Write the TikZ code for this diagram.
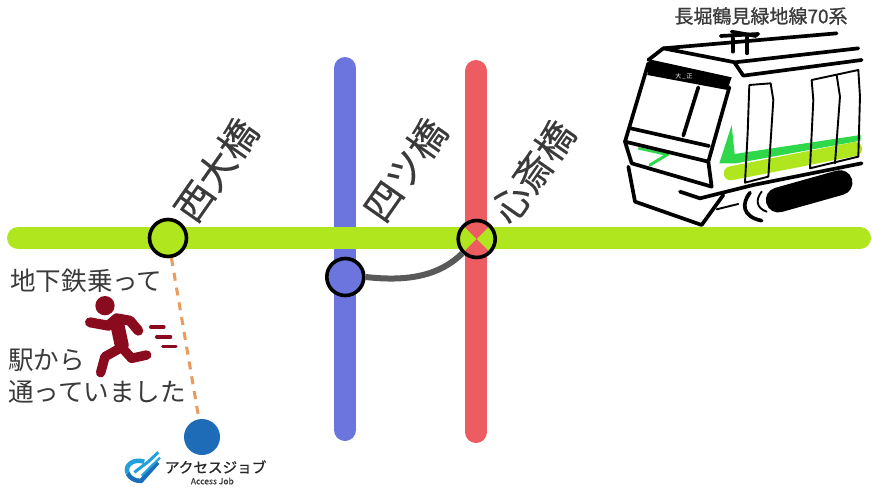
\documentclass[tikz,border=0pt]{standalone}
\usepackage{fontspec}
\setmainfont{Noto Sans CJK JP}
\newfontfamily\fbb[FakeBold=0.9]{Noto Sans CJK JP}
\newfontfamily\fbs[FakeBold=0.3]{Noto Sans CJK JP}
\definecolor{linelime}{HTML}{B0E61E}
\definecolor{lineblue}{HTML}{6C74DE}
\definecolor{linered}{HTML}{EC5C60}
\definecolor{txt}{HTML}{3A3A3A}
\definecolor{runner}{HTML}{8A0A1E}
\definecolor{traingreen}{HTML}{2FD84A}
\definecolor{dotblue}{HTML}{1E6BB8}
\definecolor{logoa}{HTML}{22A0DC}
\definecolor{logob}{HTML}{1A70B8}
\definecolor{dashor}{HTML}{EA9A5C}
\tikzset{
 metro/.style={line width=22pt,line cap=round},
 station/.style={circle,draw=black,line width=3.6pt,minimum size=37pt,inner sep=0pt},
 stname/.style={rotate=55,text=txt,inner sep=0pt,font=\fontsize{38}{38}\fbs},
 lefttext/.style={anchor=west,text=txt,inner sep=0pt,font=\fontsize{25.6}{26}\selectfont},
 tr/.style={line width=3.7pt,line join=round,line cap=round},
 trthin/.style={line width=1.9pt,line join=round,line cap=round},
 limb/.style={draw=runner,line width=10pt,line cap=round,line join=round},
 speed/.style={draw=runner,line width=3.2pt,line cap=round},
}
\begin{document}
\begin{tikzpicture}[x=1pt,y=-1pt]
\useasboundingbox (0,0) rectangle (872,487);
\fill[white] (0,0) rectangle (872,487);
% ---- line ends
\coordinate (gw) at (18,238); \coordinate (ge) at (860,238);
\coordinate (bn) at (345,68); \coordinate (bs) at (345,430);
\coordinate (rn) at (476,71); \coordinate (rs) at (476,432);
\draw[metro,lineblue] (bn) -- (bs);
\draw[metro,linered] (rn) -- (rs);
\draw[metro,linelime] (gw) -- (ge);
% ---- train (reference zoom units)
\begin{scope}[shift={(610,0)},x=0.3333pt,y=-0.3333pt]
 \draw[line width=14pt,line cap=round,linelime] (362,520) -- (735,447);
 \fill[traingreen] (365,375) -- (374,462) -- (752,405) -- (752,422) -- (378,490) -- (328,490) -- cycle;
 \draw[line width=25pt,line cap=round,black] (505,600) -- (690,548);
 \draw[line width=3pt,traingreen,line cap=round] (120,495) -- (175,462);
 \draw[line width=2.5pt,traingreen] (85,445) -- (175,465);
 % roof
 \draw[tr] (115,180) -- (160,145) -- (680,100);
 \draw[tr] (160,145) -- (375,187) -- (745,145);
 \draw[tr] (375,190) -- (400,227) -- (755,180);
 % pantograph
 \draw[tr] (365,95) -- (438,108);
 \draw[tr] (332,108) -- (445,102);
 \draw[tr] (368,115) -- (368,155);
 \draw[tr] (411,112) -- (411,160);
 % destination band
 \fill (118,178) -- (365,232) -- (352,270) -- (112,225) -- cycle;
 \node[text=white,inner sep=0pt,font=\fontsize{6}{6}\selectfont] (dest) at (222,230) {大\,\_\,正};
 % cab outline
 \draw[tr] (115,190) -- (45,425) -- (65,490) -- (305,560) -- (295,485) -- (358,262);
 \draw[tr] (45,425) -- (295,485);
 \draw[tr] (62,385) -- (297,438);
 \draw[tr] (265,262) -- (220,407);
 % skirt
 \draw[tr] (55,500) -- (75,605) -- (275,675) -- (340,585);
 \draw[tr] (210,575) -- (270,595) -- (430,555) -- (755,490);
 \draw[trthin] (320,628) -- (385,612);
 % side doors
 \draw[trthin] (418,255) -- (482,250) -- (490,300) -- (475,530) -- (405,548) -- (413,400) -- cycle;
 \draw[trthin] (605,240) -- (745,210) -- (750,290) -- (745,470) -- (600,505) -- (610,300) -- cycle;
 \draw[trthin] (680,225) -- (690,290) -- (675,490);
 % bogie
 \draw[tr] (420,578) .. controls (395,610) and (395,650) .. (455,662);
 \draw[trthin] (455,575) .. controls (435,600) and (440,625) .. (470,635);
\end{scope}
% ---- stations
\node[station,fill=linelime] (nishi) at (168,238) {};
\node[station,fill=lineblue] (yotsu) at (345.3,277) {};
\node[station,fill=linelime,path picture={
  \fill[linered] (path picture bounding box.center) -- ++(-30,-30) -- ++(60,0) -- cycle;
  \fill[linered] (path picture bounding box.center) -- ++(-30,30) -- ++(60,0) -- cycle;
}] (shin) at (476.7,239) {};
\node[circle,fill=dotblue,minimum size=36pt,inner sep=0pt] (dot) at (202,437) {};
\draw[line width=6pt,color=black!65] (yotsu.east) .. controls (410,282) and (440,275) .. (shin.south west);
\draw[color=dashor,line width=3pt,dash pattern=on 8pt off 7pt] (nishi) -- (dot);
% ---- station names
\node[stname] (n1) at (216,170) {西大橋};
\node[stname] (n2) at (405,170) {四ツ橋};
\node[stname] (n3) at (533,172) {心斎橋};
% ---- left texts
\node[lefttext] (t1) at (10,281) {地下鉄乗って};
\node[lefttext] (t2) at (8,360) {駅から};
\node[lefttext] (t3) at (8,392) {通っていました};
% ---- train title
\node[text=txt,inner sep=0pt,font=\fontsize{19}{19}\fbb] (title) at (761,16) {長堀鶴見緑地線70系};
% ---- runner (reference zoom units)
\begin{scope}[shift={(80,290)},x=0.3333pt,y=-0.3333pt]
 \fill[runner] (75,47) circle (29);
 \draw[limb] (30,97) -- (85,107) -- (110,85) -- (150,92) -- (175,122);
 \draw[limb,line width=14pt] (110,95) -- (125,165);
 \draw[limb,line width=9.5pt] (125,172) -- (75,200) -- (62,248);
 \draw[limb,line width=9.5pt] (125,172) -- (155,205) -- (200,195);
 \draw[speed] (212,111) -- (252,111);
 \draw[speed] (230,141) -- (272,141);
 \draw[speed] (248,170) -- (288,170);
\end{scope}
% ---- logo (reference zoom units)
\begin{scope}[shift={(115,445)},x=0.3333pt,y=-0.3333pt]
 \draw[line width=4.5pt,logoa] (88,50) .. controls (55,40) and (28,60) .. (38,85);
 \draw[line width=4.5pt,logob,line join=round] (38,85) .. controls (45,100) and (60,108) .. (78,108) -- (128,52);
 \draw[line width=3pt,logoa] (58,82) -- (100,50) -- (130,22);
 \draw[line width=2.2pt,logoa] (80,92) -- (135,38);
 \node[inner sep=0pt,text=black!85,font=\fontsize{14.6}{15}\fbb] (lg) at (302,66) {アクセスジョブ};
 \node[inner sep=0pt,text=black!75,font=\fontsize{8.5}{9}\fbb] (lg2) at (292,108) {Access Job};
\end{scope}
\end{tikzpicture}
\end{document}
